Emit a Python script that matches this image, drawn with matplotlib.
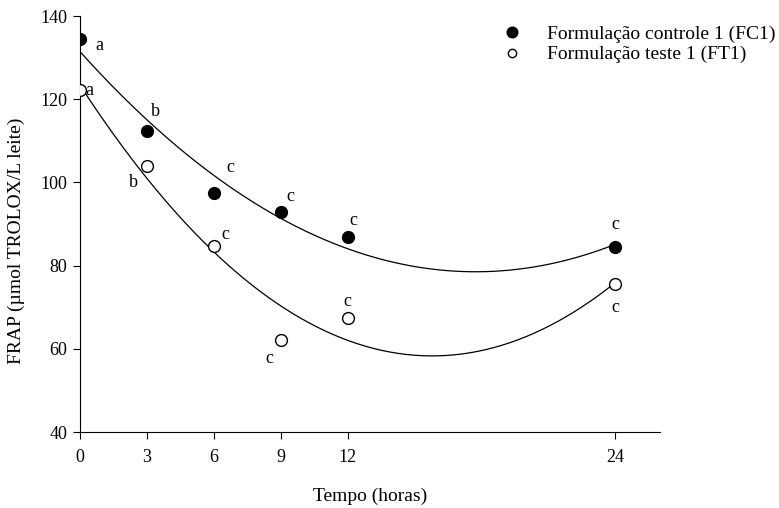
import numpy as np
import matplotlib.pyplot as plt

plt.rcParams['font.family'] = ['Liberation Serif', 'DejaVu Serif']

tempo = [0, 3, 6, 9, 12, 24]
fc1 = [134.5, 112.4, 97.5, 92.9, 86.9, 84.5]
ft1 = [122.2, 103.9, 84.7, 62.1, 67.4, 75.6]
letras_fc1 = ['a', 'b', 'c', 'c', 'c', 'c']
letras_ft1 = ['a', 'b', 'c', 'c', 'c', 'c']

# offsets of the letters from each point, in points
off_fc1 = [(14, -5), (6, 14), (12, 18), (7, 11), (4, 12), (0, 16)]
off_ft1 = [(7, 0), (-10, -12), (8, 8), (-8, -13), (0, 12), (0, -17)]

fig = plt.figure(figsize=(7.79, 5.08), dpi=100)
ax = fig.add_axes([0.1027, 0.1496, 0.7445, 0.8189])

xs = np.linspace(0, 24, 200)
for y in (fc1, ft1):
    c = np.polyfit(tempo, y, 2)
    ax.plot(xs, np.polyval(c, xs), color='black', lw=0.9, zorder=1)

ax.plot(tempo, fc1, 'o', color='black', ms=8.5, zorder=3,
        label='Formulação controle 1 (FC1)')
ax.plot(tempo, ft1, 'o', mfc='white', mec='black', mew=1, ms=8.5, zorder=3,
        label='Formulação teste 1 (FT1)')

for x, y, t, o in zip(tempo, fc1, letras_fc1, off_fc1):
    ax.annotate(t, (x, y), xytext=o, textcoords='offset points',
                ha='center', va='center', fontsize=13)
for x, y, t, o in zip(tempo, ft1, letras_ft1, off_ft1):
    ax.annotate(t, (x, y), xytext=o, textcoords='offset points',
                ha='center', va='center', fontsize=13)

ax.set_xlim(0, 26)
ax.set_ylim(40, 140)
ax.set_xticks(tempo)
ax.set_yticks(range(40, 141, 20))
ax.spines['top'].set_visible(False)
ax.spines['right'].set_visible(False)
ax.spines['left'].set_clip_on(False)
ax.tick_params(direction='out', length=5, labelsize=13)
ax.tick_params(axis='x', pad=7)
ax.tick_params(axis='y', pad=4)

ax.set_xlabel('Tempo (horas)', fontsize=14)
ax.set_ylabel('FRAP (µmol TROLOX/L leite)', fontsize=14)
ax.xaxis.set_label_coords(0.5, -0.135)
ax.yaxis.set_label_coords(-0.095, 0.46)

leg = ax.legend(loc='upper left', bbox_to_anchor=(0.682, 1.02), frameon=False,
                fontsize=14, handletextpad=0.75, labelspacing=0.15,
                markerscale=0.9)
leg.legend_handles[1].set_markersize(6)

fig.savefig('out.png', dpi=100)
